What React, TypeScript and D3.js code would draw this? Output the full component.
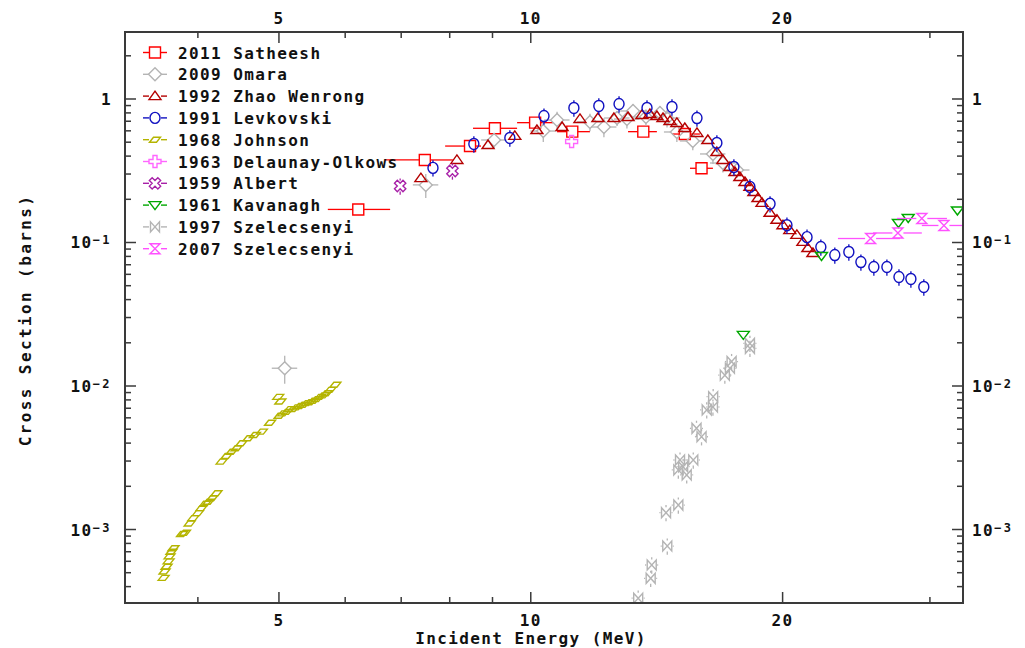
import React from "react";
import * as d3 from "d3";

// ---- values: [energy MeV, cross section barns] ----
const satheesh = [[6.22, 0.170], [7.47, 0.376], [8.46, 0.470], [9.06, 0.625], [10.12, 0.684], [11.21, 0.592], [13.63, 0.592], [15.28, 0.570], [16.0, 0.329]];
const satheeshXErr = [[5.72, 6.79], [6.69, 8.07], [7.9, 8.72], [8.53, 9.63], [9.63, 10.63], [10.75, 11.77], [13.07, 14.15], [14.75, 15.93], [15.5, 16.51]];

const omara = [[5.08, 0.0133], [7.49, 0.252], [9.04, 0.518], [10.35, 0.598], [10.75, 0.714], [11.77, 0.692], [12.23, 0.638], [12.68, 0.737], [13.03, 0.725], [13.25, 0.825], [13.73, 0.749], [14.27, 0.799], [14.55, 0.737], [14.95, 0.589], [15.62, 0.510], [16.51, 0.414], [16.97, 0.358], [17.64, 0.320]];
const omaraYErr = [0.22, 0.19, 0.12, 0.16, 0.14, 0.14, 0.15, 0.12, 0.14, 0.12, 0.13, 0.12, 0.14, 0.15, 0.14, 0.15, 0.14, 0.12];

const zhao = [[7.39, 0.281], [8.16, 0.376], [8.89, 0.478], [9.57, 0.553], [10.17, 0.608], [10.9, 0.638], [11.45, 0.726], [12.03, 0.737], [12.57, 0.737], [13.07, 0.749], [13.58, 0.774], [13.88, 0.786], [14.15, 0.761], [14.39, 0.737], [14.67, 0.703], [14.95, 0.681], [15.28, 0.628], [15.8, 0.580], [16.28, 0.518], [16.69, 0.427], [16.97, 0.376], [17.3, 0.336], [17.54, 0.310], [17.78, 0.286], [18.03, 0.264], [18.28, 0.244], [18.48, 0.225], [18.69, 0.204], [18.9, 0.189], [19.32, 0.161], [19.69, 0.144], [20.02, 0.132], [20.4, 0.122], [20.8, 0.113], [21.15, 0.101], [21.44, 0.0915], [21.74, 0.0845]];

const levkovski = [[7.64, 0.331], [8.55, 0.486], [9.44, 0.535], [10.37, 0.761], [11.26, 0.866], [12.06, 0.894], [12.75, 0.923], [13.77, 0.866], [14.75, 0.880], [15.8, 0.737], [16.69, 0.494], [17.49, 0.336], [18.28, 0.244], [19.32, 0.186], [20.24, 0.132], [21.39, 0.109], [22.22, 0.093], [23.09, 0.0818], [24.0, 0.0859], [24.81, 0.0731], [25.71, 0.0675], [26.65, 0.0675], [27.55, 0.0575], [28.47, 0.0557], [29.5, 0.049]];

const johnson = [[3.64, 4.6e-4], [3.65, 5.1e-4], [3.67, 5.5e-4], [3.69, 6.0e-4], [3.7, 6.5e-4], [3.72, 7.0e-4], [3.74, 7.4e-4], [3.83, 9.3e-4], [3.86, 9.5e-4], [3.91, 1.1e-3], [3.95, 1.2e-3], [4.0, 1.3e-3], [4.04, 1.41e-3], [4.08, 1.51e-3], [4.12, 1.56e-3], [4.16, 1.65e-3], [4.21, 1.79e-3], [4.27, 2.97e-3], [4.33, 3.25e-3], [4.39, 3.48e-3], [4.45, 3.68e-3], [4.51, 3.99e-3], [4.6, 4.32e-3], [4.68, 4.56e-3], [4.77, 4.81e-3], [4.88, 5.55e-3], [4.99, 8.4e-3], [5.02, 7.8e-3], [5.01, 6.2e-3], [5.06, 6.45e-3], [5.11, 6.6e-3], [5.15, 6.9e-3], [5.2, 6.9e-3], [5.25, 7.1e-3], [5.3, 7.25e-3], [5.35, 7.4e-3], [5.4, 7.6e-3], [5.45, 7.7e-3], [5.5, 7.9e-3], [5.55, 8.1e-3], [5.6, 8.4e-3], [5.65, 8.6e-3], [5.7, 8.9e-3], [5.76, 9.4e-3], [5.84, 1.02e-2]];

const delaunay = [[11.19, 0.506]];
const albert = [[6.98, 0.2475], [8.06, 0.315]];
const kavanagh = [[17.95, 0.0227], [22.26, 0.0805], [27.51, 0.1368], [28.26, 0.1482], [32.36, 0.1671]];

const szel1997 = [[13.44, 3.32e-4], [13.91, 4.57e-4], [13.95, 5.66e-4], [14.56, 7.67e-4], [14.51, 1.31e-3], [15.01, 1.48e-3], [15.08, 3.05e-3], [15.21, 2.74e-3], [15.01, 2.6e-3], [15.36, 2.4e-3], [15.64, 3.05e-3], [15.78, 5.07e-3], [16.0, 4.43e-3], [16.23, 6.81e-3], [16.52, 8.42e-3], [16.51, 7.14e-3], [17.06, 1.19e-2], [17.3, 1.33e-2], [17.38, 1.48e-2], [18.28, 1.98e-2], [18.28, 1.83e-2]];

const szel2007 = [[25.48, 0.1066], [27.47, 0.1165], [29.34, 0.147], [31.18, 0.1314]];
const szel2007XErr = [[23.29, 27.62], [25.65, 29.34], [27.4, 31.44], [29.34, 33.3]];

const seriesNames = ["2011 Satheesh", "2009 Omara", "1992 Zhao Wenrong", "1991 Levkovski", "1968 Johnson", "1963 Delaunay-Olkows", "1959 Albert", "1961 Kavanagh", "1997 Szelecsenyi", "2007 Szelecsenyi"];
const seriesColors = ["#ff0000", "#b4b4b4", "#b40000", "#1010c0", "#b4b400", "#ff66ff", "#a820a8", "#00a800", "#b4b4b4", "#ff50ff"];
const seriesShapes = ["square", "diamond", "triUp", "circle", "para", "plus", "xcross", "triDown", "bowtie", "hourglass"];

// x ticks (MeV) and the ones carrying labels
const xTicks = [4, 5, 6, 7, 8, 9, 10, 20, 30];
const xTickLabels = [5, 10, 20];
const yDecades = [1e-3, 1e-2, 1e-1, 1];
const yDecadeExp = ["−3", "−2", "−1", ""];

const W = 1025;
const H = 648;
const L = 125, R = 963, T = 32, B = 603;
const FONT = "'DejaVu Sans Mono', 'Liberation Mono', monospace";
const AXIS = "#3a3a3a";
const HALF = 5.5; // half size of a marker, error bars start outside it

const shapePath = (kind) => {
  switch (kind) {
    case "square": return "M-5.5,-5.5H5.5V5.5H-5.5Z";
    case "diamond": return "M0,-6.5L6.5,0L0,6.5L-6.5,0Z";
    case "triUp": return "M0,-5L6,3.5H-6Z";
    case "circle": return "M-5,0A5,5.5 0 1,0 5,0A5,5.5 0 1,0 -5,0Z";
    case "para": return "M-5.5,2.5L-1.5,-2.5H5.5L1.5,2.5Z";
    case "plus": return "M-2,-6H2V-2H6V2H2V6H-2V2H-6V-2H-2Z";
    case "xcross": return "M-2,-6H2V-2H6V2H2V6H-2V2H-6V-2H-2Z";
    case "triDown": return "M-6,-3.5H6L0,4.5Z";
    case "bowtie": return "M-4.5,-5L4.5,5V-5L-4.5,5Z";
    case "hourglass": return "M-5,-5H5L-5,5H5Z";
    default: return "";
  }
};

const Marker = ({ kind, color, x, y }) => (
  <path
    d={shapePath(kind)}
    transform={`translate(${x},${y})${kind === "xcross" ? " rotate(45)" : ""}`}
    fill="none"
    stroke={color}
    strokeWidth={1.4}
  />
);

export default function App() {
  const x = d3.scaleLog().domain([3.273, 32.86]).range([L, R]);
  const y = d3.scaleLog().domain([3.075e-4, 2.93]).range([B, T]);
  const yMinor = y.ticks().filter((v) => !yDecades.some((d) => Math.abs(v / d - 1) < 1e-6));

  const seriesData = [satheesh, omara, zhao, levkovski, johnson, delaunay, albert, kavanagh, szel1997, szel2007];
  // relative vertical / horizontal errors per series
  const yErr = [0.03, 0, 0.05, 0.13, 0, 0, 0.13, 0, 0.13, 0.06];
  const xErr = [0, 0.035, 0, 0, 0, 0, 0, 0, 0.018, 0];

  const errLines = (si) => {
    const col = seriesColors[si];
    const out = [];
    seriesData[si].forEach(([e, s], i) => {
      const px = x(e), py = y(s);
      let ye = yErr[si];
      if (si === 1) ye = omaraYErr[i];
      if (ye > 0) {
        const top = y(s * (1 + ye)), bot = y(s * (1 - ye));
        if (top < py - HALF) out.push(<line key={`vt${i}`} x1={px} x2={px} y1={top} y2={py - HALF} stroke={col} strokeWidth={1.3} />);
        if (bot > py + HALF) out.push(<line key={`vb${i}`} x1={px} x2={px} y1={py + HALF} y2={bot} stroke={col} strokeWidth={1.3} />);
      }
      let xr = null;
      if (si === 0) xr = satheeshXErr[i];
      else if (si === 9) xr = szel2007XErr[i];
      else if (xErr[si] > 0) xr = [e * (1 - xErr[si]), e * (1 + xErr[si])];
      if (xr) {
        const lo = x(xr[0]), hi = x(xr[1]);
        if (lo < px - HALF) out.push(<line key={`hl${i}`} x1={lo} x2={px - HALF} y1={py} y2={py} stroke={col} strokeWidth={1.3} />);
        if (hi > px + HALF) out.push(<line key={`hr${i}`} x1={px + HALF} x2={hi} y1={py} y2={py} stroke={col} strokeWidth={1.3} />);
      }
    });
    return out;
  };

  const tickText = { fontFamily: FONT, fontWeight: "bold", fontSize: 16, letterSpacing: 1.4, fill: "#111" };

  const decadeLabel = (d, i, anchorX, anchor) => (
    <text key={`yl${i}${anchor}`} x={anchorX} y={y(d) + 6} textAnchor={anchor} style={tickText}>
      {yDecadeExp[i] === "" ? "1" : (
        <>
          10<tspan fontSize={12} dy={-4} letterSpacing={2.5}>{yDecadeExp[i]}</tspan>
        </>
      )}
    </text>
  );

  return (
    <svg width={W} height={H} style={{ position: "absolute", left: 0, top: 0, background: "white" }}>
      <defs>
        <clipPath id="plotClip">
          <rect x={L} y={T} width={R - L} height={B - T} />
        </clipPath>
      </defs>

      {/* data */}
      <g clipPath="url(#plotClip)">
        {seriesData.map((pts, si) => (
          <g key={si}>
            {errLines(si)}
            {pts.map(([e, s], i) => (
              <Marker key={i} kind={seriesShapes[si]} color={seriesColors[si]} x={x(e)} y={y(s)} />
            ))}
          </g>
        ))}
      </g>

      {/* frame */}
      <rect x={L} y={T} width={R - L} height={B - T} fill="none" stroke={AXIS} strokeWidth={2} />

      {/* x ticks top and bottom */}
      {xTicks.map((t) => {
        const len = xTickLabels.includes(t) ? 11 : 6;
        return (
          <g key={`xt${t}`} stroke={AXIS} strokeWidth={1.5}>
            <line x1={x(t)} x2={x(t)} y1={T} y2={T + len} />
            <line x1={x(t)} x2={x(t)} y1={B} y2={B - len} />
          </g>
        );
      })}
      {xTickLabels.map((t) => (
        <g key={`xl${t}`}>
          <text x={x(t)} y={24} textAnchor="middle" style={tickText}>{t}</text>
          <text x={x(t)} y={626} textAnchor="middle" style={tickText}>{t}</text>
        </g>
      ))}

      {/* y ticks left and right */}
      {yDecades.map((d) => (
        <g key={`yd${d}`} stroke={AXIS} strokeWidth={1.5}>
          <line x1={L} x2={L + 11} y1={y(d)} y2={y(d)} />
          <line x1={R} x2={R - 11} y1={y(d)} y2={y(d)} />
        </g>
      ))}
      {yMinor.map((v, i) => (
        <g key={`ym${i}`} stroke={AXIS} strokeWidth={1.5}>
          <line x1={L} x2={L + 6} y1={y(v)} y2={y(v)} />
          <line x1={R} x2={R - 6} y1={y(v)} y2={y(v)} />
        </g>
      ))}
      {yDecades.map((d, i) => decadeLabel(d, i, 112, "end"))}
      {yDecades.map((d, i) => decadeLabel(d, i, 972, "start"))}

      {/* axis titles */}
      <text x={531} y={644} textAnchor="middle" style={tickText}>Incident Energy (MeV)</text>
      <text
        transform={`translate(31,${320}) rotate(-90)`}
        textAnchor="middle"
        style={{ ...tickText, letterSpacing: 2.4 }}
      >
        Cross Section (barns)
      </text>

      {/* legend */}
      {seriesNames.map((name, i) => {
        const ly = 52.5 + i * 21.8;
        return (
          <g key={name}>
            <line x1={143} x2={149} y1={ly} y2={ly} stroke={seriesColors[i]} strokeWidth={1.4} />
            <line x1={161} x2={167} y1={ly} y2={ly} stroke={seriesColors[i]} strokeWidth={1.4} />
            <Marker kind={seriesShapes[i]} color={seriesColors[i]} x={155} y={ly} />
            <text x={178} y={ly + 6} style={tickText}>{name}</text>
          </g>
        );
      })}
    </svg>
  );
}
